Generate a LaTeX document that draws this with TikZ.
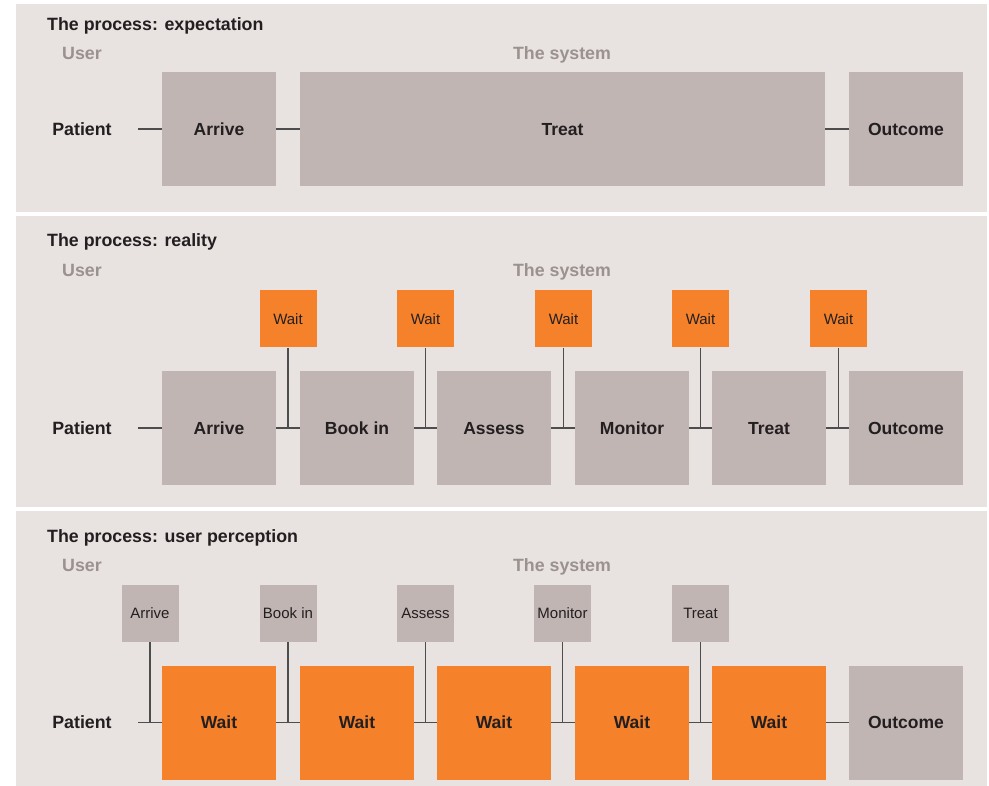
\documentclass[tikz,border=0pt]{standalone}
\usepackage{fontspec}
\setmainfont{Liberation Sans}
\definecolor{panelbg}{HTML}{E8E3E1}
\definecolor{boxgray}{HTML}{C0B5B3}
\definecolor{boxorange}{HTML}{F5812A}
\definecolor{txtdark}{HTML}{231F20}
\definecolor{txtgray}{HTML}{9B918F}
\definecolor{linegray}{HTML}{4D4D4D}
\tikzset{
  panel/.style={fill=panelbg, draw=none},
  bigbox/.style={fill=boxgray, draw=none, minimum width=114pt, minimum height=114pt, inner sep=0pt, text=txtdark, font=\fontsize{17.5}{20}\selectfont\bfseries, text height=12.6pt, text depth=0pt},
  bigorange/.style={bigbox, fill=boxorange},
  smallbox/.style={fill=boxgray, draw=none, minimum width=57pt, minimum height=57pt, inner sep=0pt, text=txtdark, font=\fontsize{15}{17}\selectfont, text height=10.8pt, text depth=0pt},
  smallorange/.style={smallbox, fill=boxorange},
  ptitle/.style={anchor=base west, inner sep=0pt, text=txtdark, font=\fontsize{17.8}{20}\selectfont\bfseries},
  plabel/.style={anchor=base, inner sep=0pt, text=txtgray, font=\fontsize{17.8}{20}\selectfont\bfseries},
  patient/.style={inner sep=0pt, text=txtdark, font=\fontsize{17.8}{20}\selectfont\bfseries, text height=12.8pt, text depth=0pt},
  conn/.style={draw=linegray, line width=1.3pt}
}
\begin{document}
\begin{tikzpicture}[x=1pt, y=-1pt]
\useasboundingbox (0,0) rectangle (989,786);
\fill[white] (0,0) rectangle (989,786);
% panels
\fill[panel] (16,4) rectangle (987,212);
\fill[panel] (16,216) rectangle (987,507);
\fill[panel] (16,511) rectangle (987,786);

% ---------- Panel 1 ----------
\node[ptitle] (t1) at (47,30.5) {The process: expectation};
\node[plabel] (u1) at (82,59.5) {User};
\node[plabel] (s1) at (562,59.5) {The system};
\node[patient] (pa1) at (82,129) {Patient};
\coordinate (pc1) at (138,129);
\node[bigbox] (a1) at (219,129) {Arrive};
\node[bigbox, minimum width=525pt] (tr1) at (562.5,129) {Treat};
\node[bigbox] (o1) at (906,129) {Outcome};
\draw[conn] (pc1) -- (a1.west);
\draw[conn] (a1.east) -- (tr1.west);
\draw[conn] (tr1.east) -- (o1.west);

% ---------- Panel 2 ----------
\node[ptitle] (t2) at (47,247) {The process: reality};
\node[plabel] (u2) at (82,276.5) {User};
\node[plabel] (s2) at (562,276.5) {The system};
\node[patient] (pa2) at (82,428) {Patient};
\coordinate (pc2) at (138,428);
\node[bigbox] (b21) at (219,428) {Arrive};
\node[bigbox] (b22) at (357,428) {Book in};
\node[bigbox] (b23) at (494,428) {Assess};
\node[bigbox] (b24) at (632,428) {Monitor};
\node[bigbox] (b25) at (769,428) {Treat};
\node[bigbox] (b26) at (906,428) {Outcome};
\node[smallorange] (w21) at (288,319) {Wait};
\node[smallorange] (w22) at (425.5,319) {Wait};
\node[smallorange] (w23) at (563.5,319) {Wait};
\node[smallorange] (w24) at (700.5,319) {Wait};
\node[smallorange] (w25) at (838.5,319) {Wait};
\draw[conn] (pc2) -- (b21.west);
\draw[conn] (b21.east) -- (b22.west);
\draw[conn] (b22.east) -- (b23.west);
\draw[conn] (b23.east) -- (b24.west);
\draw[conn] (b24.east) -- (b25.west);
\draw[conn] (b25.east) -- (b26.west);
\draw[conn] (w21.south) -- (w21.south |- b21.east);
\draw[conn] (w22.south) -- (w22.south |- b22.east);
\draw[conn] (w23.south) -- (w23.south |- b23.east);
\draw[conn] (w24.south) -- (w24.south |- b24.east);
\draw[conn] (w25.south) -- (w25.south |- b25.east);

% ---------- Panel 3 ----------
\node[ptitle] (t3) at (47,542) {The process: user perception};
\node[plabel] (u3) at (82,571.5) {User};
\node[plabel] (s3) at (562,571.5) {The system};
\node[patient] (pa3) at (82,722.5) {Patient};
\coordinate (pc3) at (138,722.5);
\node[bigorange] (b31) at (219,722.5) {Wait};
\node[bigorange] (b32) at (357,722.5) {Wait};
\node[bigorange] (b33) at (494,722.5) {Wait};
\node[bigorange] (b34) at (632,722.5) {Wait};
\node[bigorange] (b35) at (769,722.5) {Wait};
\node[bigbox] (b36) at (906,722.5) {Outcome};
\node[smallbox] (s31) at (150,613.5) {Arrive};
\node[smallbox] (s32) at (288,613.5) {Book in};
\node[smallbox] (s33) at (425.5,613.5) {Assess};
\node[smallbox] (s34) at (562.5,613.5) {Monitor};
\node[smallbox] (s35) at (700.5,613.5) {Treat};
\draw[conn] (pc3) -- (b31.west);
\draw[conn] (b31.east) -- (b32.west);
\draw[conn] (b32.east) -- (b33.west);
\draw[conn] (b33.east) -- (b34.west);
\draw[conn] (b34.east) -- (b35.west);
\draw[conn] (b35.east) -- (b36.west);
\draw[conn] (s31.south) -- (s31.south |- b31.west);
\draw[conn] (s32.south) -- (s32.south |- b32.west);
\draw[conn] (s33.south) -- (s33.south |- b33.west);
\draw[conn] (s34.south) -- (s34.south |- b34.west);
\draw[conn] (s35.south) -- (s35.south |- b35.west);
\end{tikzpicture}
\end{document}
